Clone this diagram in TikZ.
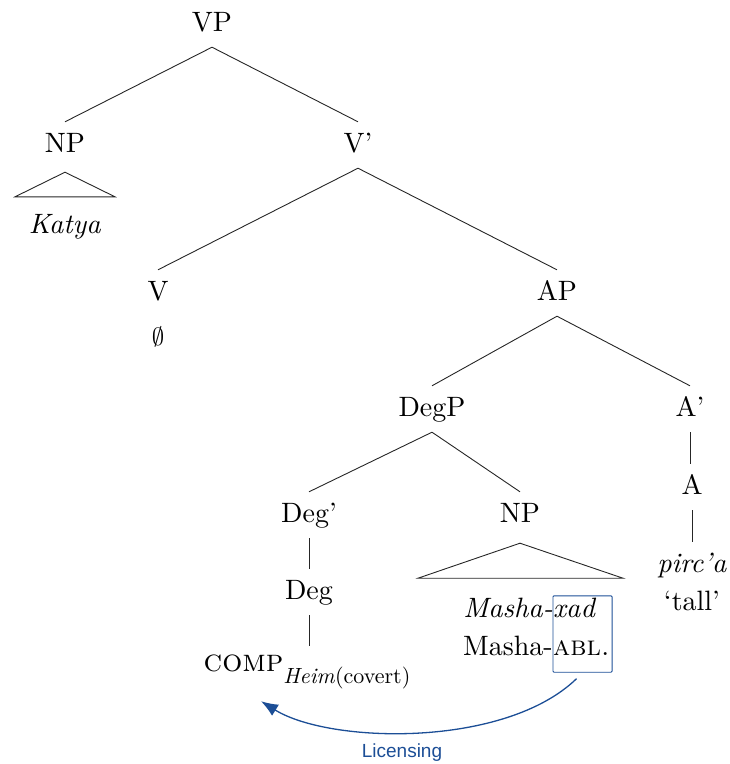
\documentclass[tikz,border=0pt]{standalone}
\usepackage{fontspec}
\setmainfont{lmroman10-regular.otf}[ItalicFont=lmroman10-italic.otf, BoldFont=lmroman10-bold.otf, SmallCapsFont=lmromancaps10-regular.otf]
\newfontfamily\licfont{Liberation Sans}
\usetikzlibrary{arrows.meta,fit,calc}
\definecolor{licblue}{RGB}{28,78,150}
\begin{document}
\begin{tikzpicture}[x=1pt,y=-1pt,
  lbl/.style={font=\fontsize{28}{34}\selectfont, text height=20pt, text depth=6pt, inner xsep=0pt, inner ysep=10pt, anchor=base},
  rowtxt/.style={font=\fontsize{28}{34}\selectfont, text height=20pt, text depth=6pt, inner sep=0pt},
  edge/.style={line width=0.9pt, black!85},
  hibox/.style={draw=licblue, line width=0.9pt, rounded corners=1pt, inner sep=0pt},
  licarrow/.style={draw=licblue, line width=1.3pt, -{Latex[length=17pt,width=13pt]}},
  liclabel/.style={font=\licfont\fontsize{19}{22}\selectfont, text=licblue, inner sep=0pt, anchor=base}
  ]
\useasboundingbox (0,0) rectangle (730,764);
% tree nodes
\node[lbl] (vp) at (212,31) {VP};
\node[lbl] (np1) at (65,152) {NP};
\node[lbl] (katya) at (65,233) {\textit{Katya}};
\node[lbl] (vbar) at (358,152) {V'};
\node[lbl] (v) at (158,300) {V};
\node[lbl] (null) at (158,345) {$\emptyset$};
\node[lbl] (ap) at (557,300) {AP};
\node[lbl] (degp) at (432,416) {DegP};
\node[lbl] (abar) at (690,416) {A'};
\node[lbl] (a) at (692,494) {A};
\node[lbl] (pirca) at (692,572) {\textit{pirc'a}};
\node[lbl] (tall) at (692,610) {`tall'};
\node[lbl] (degbar) at (309,522) {Deg'};
\node[lbl] (np2) at (520,522) {NP};
\node[lbl] (deg) at (309,599) {Deg};
\node[lbl] (comp) at (307,671) {{\fontsize{31.5}{34}\selectfont\textsc{comp}}\raisebox{-12pt}{\fontsize{22}{26}\selectfont\textit{Heim}(covert)}};
% Masha rows
\node[rowtxt, anchor=base east] (mx) at (553,617) {\textit{Masha-}};
\node[rowtxt, anchor=base west] (xad) at (553,617) {\textit{xad}};
\node[rowtxt, anchor=base east] (ma) at (553,655) {Masha-};
\node[rowtxt, anchor=base west] (abl) at (553,655) {\textsc{abl.}};
\coordinate (boxtl) at ($(xad.north west)+(0,-1)$);
\coordinate (boxbr) at ($(abl.south east)+(2,11)$);
\node[hibox, fit=(boxtl) (boxbr)] (lbox) {};
% edges
\draw[edge] (vp.south) -- (np1.north);
\draw[edge] (vp.south) -- (vbar.north);
\draw[edge] (vbar.south) -- (v.north);
\draw[edge] (vbar.south) -- (ap.north);
\draw[edge] (ap.south) -- (degp.north);
\draw[edge] (ap.south) -- (abar.north);
\draw[edge] (degp.south) -- (degbar.north);
\draw[edge] (degp.south) -- (np2.north);
\draw[edge] (degbar.south) -- (deg.north);
\draw[edge] (deg.south) -- ($(deg.south |- comp.north)+(0,5)$);
\draw[edge] (abar.south) -- (abar.south |- a.north);
\draw[edge] (a.south) -- (pirca.north);
% triangles
\draw[edge] ($(np1.south)+(0,4)$) -- ($(katya.north)+(-50,-6)$) -- ($(katya.north)+(50,-6)$) -- cycle;
\draw[edge] ($(np2.south)+(0,5)$) -- ($(np2.south)+(-102,40)$) -- ($(np2.south)+(103,40)$) -- cycle;
% licensing arrow
\draw[licarrow] ($(lbox.south)+(-6,6)$) .. controls (505,748) and (330,744) .. ($(comp.south)+(-46,14)$);
\node[liclabel] (lic) at (402,757) {Licensing};
\end{tikzpicture}
\end{document}
